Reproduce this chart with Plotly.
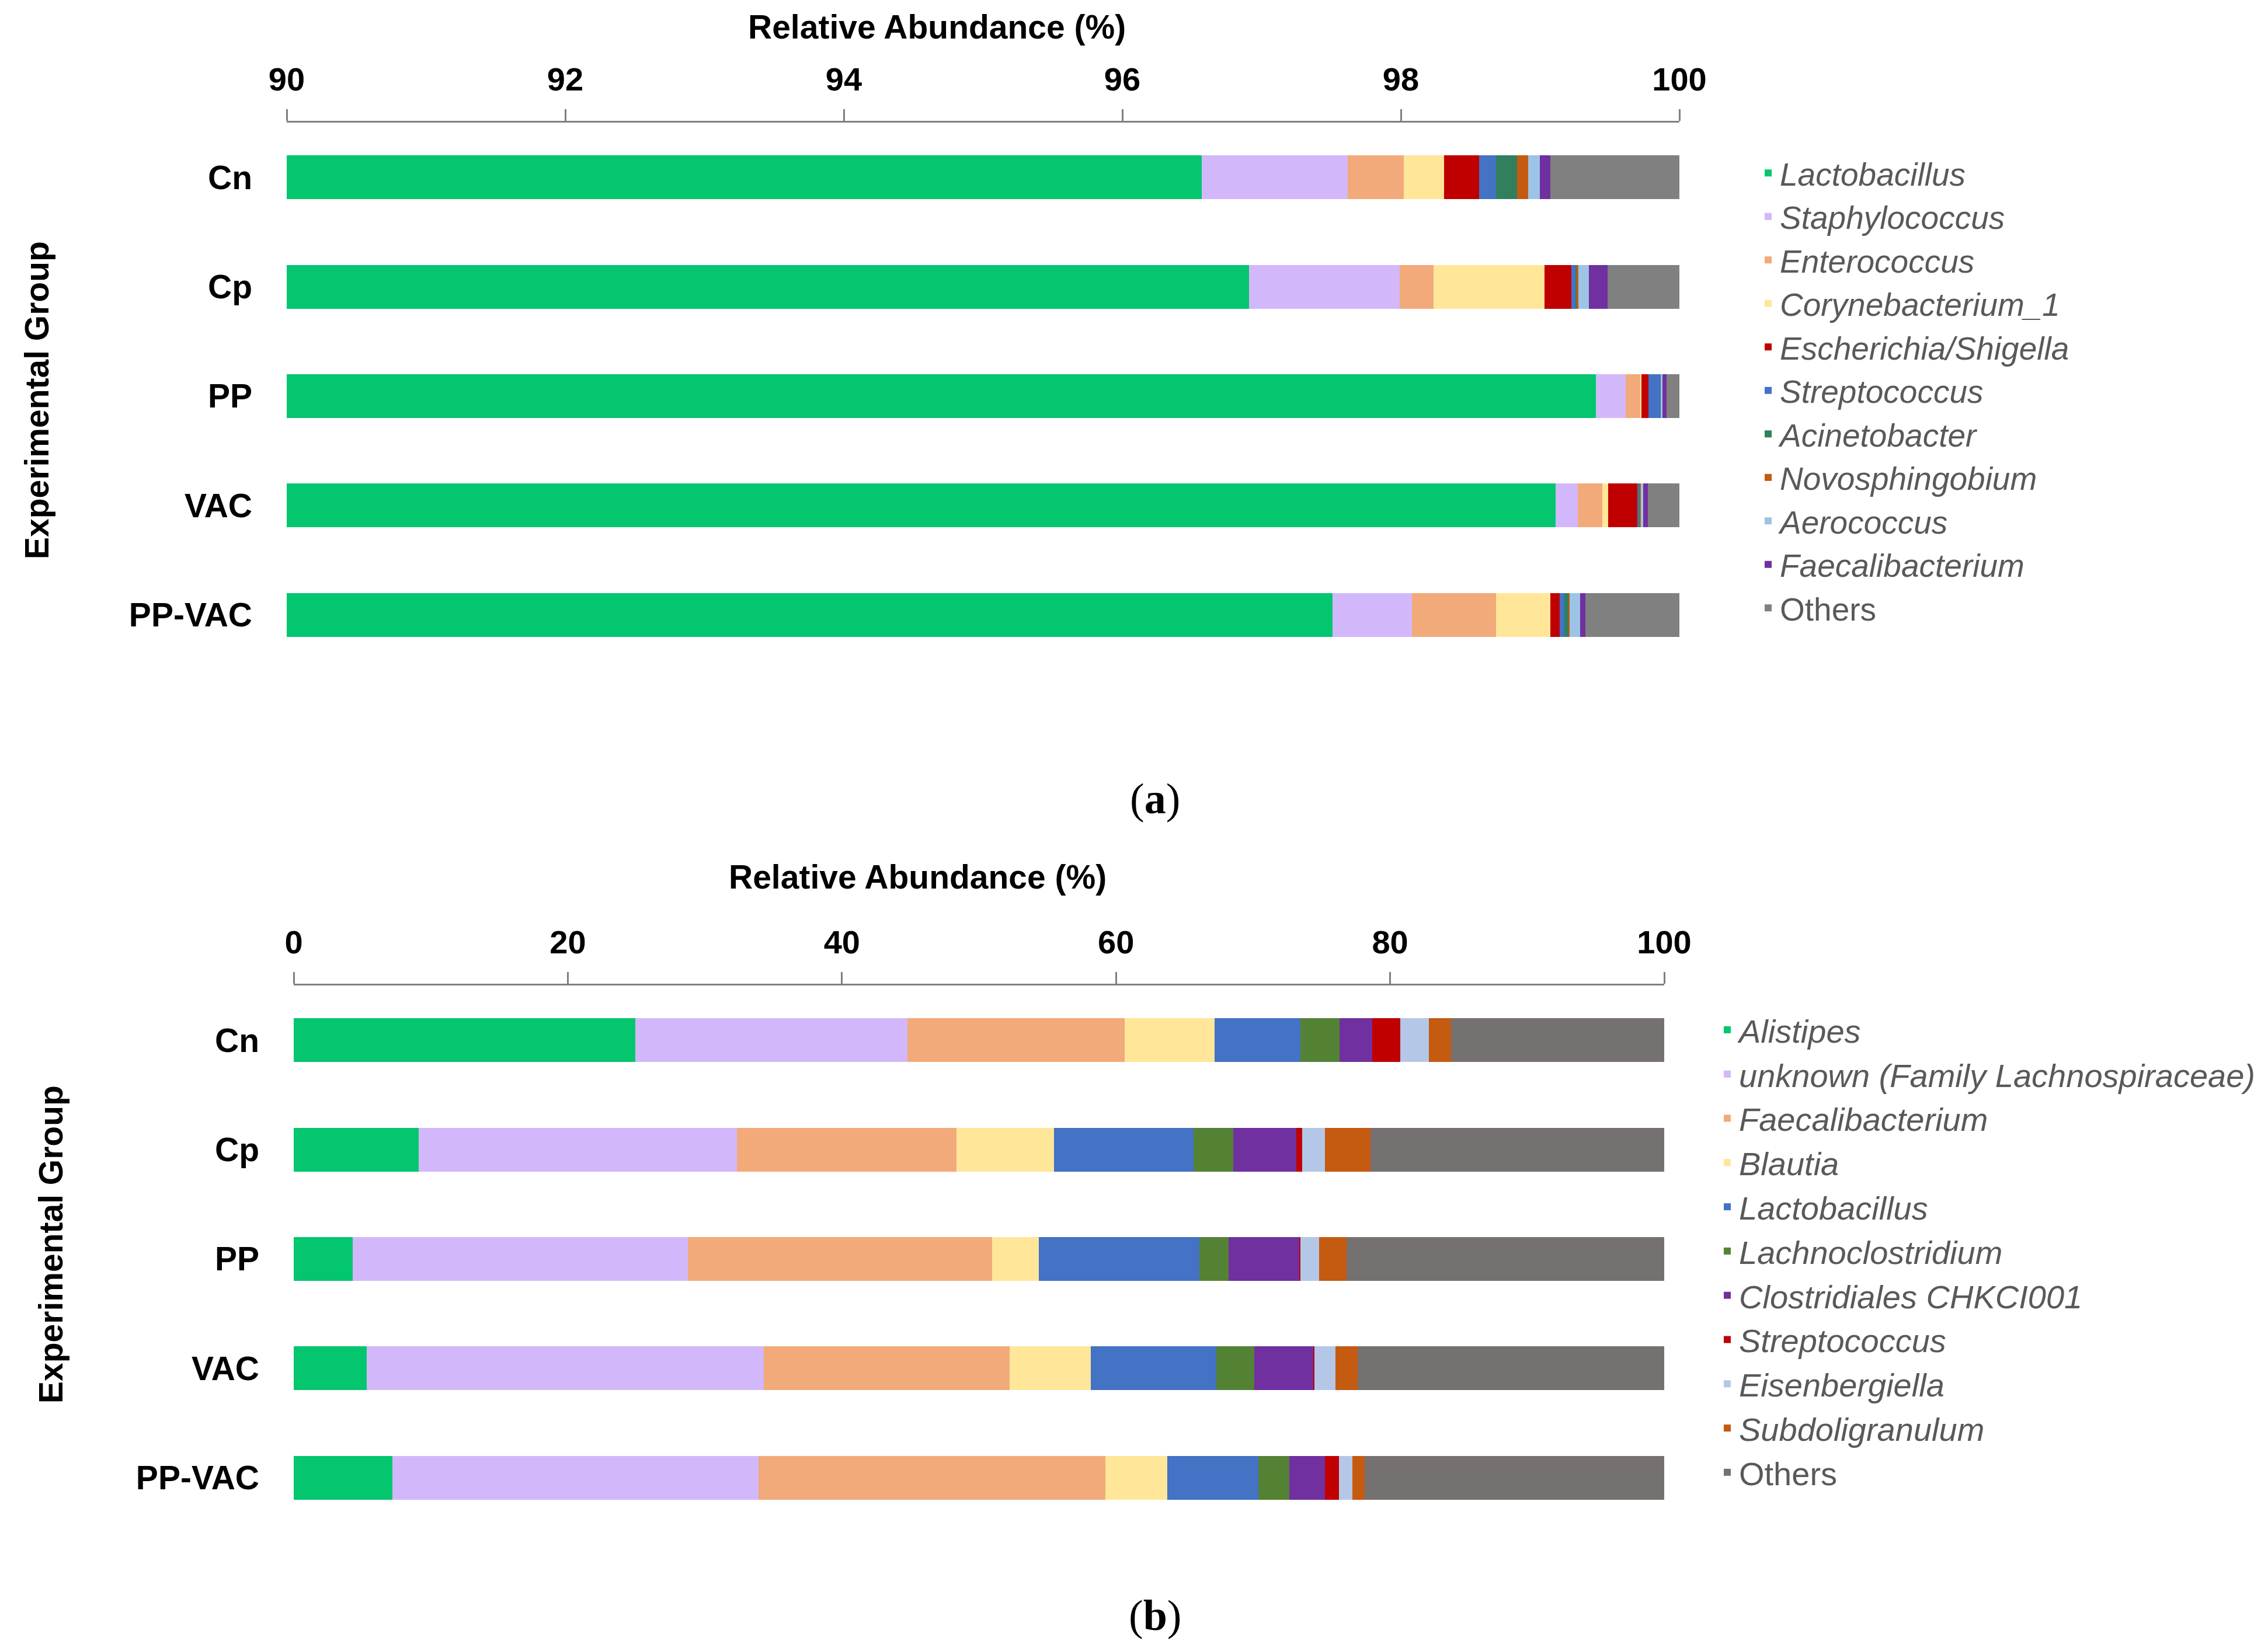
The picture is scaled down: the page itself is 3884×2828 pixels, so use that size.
import plotly.graph_objects as go

W, H = 3884, 2828

groups = ["Cn", "Cp", "PP", "VAC", "PP-VAC"]

# panel (a) - genera, top-level colours
genera_a = ["Lactobacillus", "Staphylococcus", "Enterococcus", "Corynebacterium_1",
            "Escherichia/Shigella", "Streptococcus", "Acinetobacter", "Novosphingobium",
            "Aerococcus", "Faecalibacterium", "Others"]
colors_a = ["#04C66F", "#D2B8FA", "#F2AA7A", "#FFE699", "#C00000", "#4472C4",
            "#317F5C", "#C55A11", "#9DC3E6", "#7030A0", "#808080"]

# relative abundance (%) per group, same order as genera_a
cn_a = [96.57, 1.05, 0.40, 0.29, 0.25, 0.125, 0.15, 0.077, 0.084, 0.077, 0.927]
cp_a = [96.91, 1.08, 0.246, 0.796, 0.193, 0.031, 0.005, 0.012, 0.075, 0.137, 0.515]
pp_a = [99.40, 0.213, 0.108, 0.006, 0.051, 0.087, 0.002, 0.002, 0.008, 0.030, 0.093]
vac_a = [99.11, 0.162, 0.176, 0.039, 0.210, 0.010, 0.012, 0.003, 0.017, 0.035, 0.226]
ppvac_a = [97.51, 0.57, 0.604, 0.39, 0.065, 0.036, 0.028, 0.010, 0.074, 0.039, 0.674]

# panel (b)
genera_b = ["Alistipes", "unknown (Family Lachnospiraceae)", "Faecalibacterium", "Blautia",
            "Lactobacillus", "Lachnoclostridium", "Clostridiales CHKCI001", "Streptococcus",
            "Eisenbergiella", "Subdoligranulum", "Others"]
colors_b = ["#04C66F", "#D2B8FA", "#F2AA7A", "#FFE699", "#4472C4", "#548235",
            "#7030A0", "#C00000", "#B4C7E7", "#C55A11", "#767171"]

cn_b = [24.92, 19.88, 15.84, 6.54, 6.26, 2.87, 2.39, 2.06, 2.08, 1.61, 15.55]
cp_b = [9.13, 23.22, 16.02, 7.11, 10.19, 2.88, 4.62, 0.40, 1.68, 3.33, 21.42]
pp_b = [4.29, 24.48, 22.20, 3.39, 11.74, 2.13, 5.12, 0.09, 1.40, 1.96, 23.20]
vac_b = [5.33, 28.95, 17.94, 5.92, 9.19, 2.78, 4.31, 0.05, 1.54, 1.64, 22.35]
ppvac_b = [7.20, 26.73, 25.30, 4.51, 6.65, 2.25, 2.61, 1.03, 0.98, 0.88, 21.86]

ticks_a = [90, 92, 94, 96, 98, 100]
ticks_b = [0, 20, 40, 60, 80, 100]

FONT = "Arial, Liberation Sans, sans-serif"
SERIF = "Times New Roman, Liberation Serif, serif"
AXIS_GREY = "#7F7F7F"
LEGEND_GREY = "#595959"

rows_a = [cn_a, cp_a, pp_a, vac_a, ppvac_a]
rows_b = [cn_b, cp_b, pp_b, vac_b, ppvac_b]

fig = go.Figure()


def label(name):
    return name if name == "Others" else "<i>" + name + "</i>"


for i, g in enumerate(genera_a):
    fig.add_trace(go.Bar(
        y=groups, x=[r[i] for r in rows_a], orientation="h",
        name=label(g), marker=dict(color=colors_a[i], line=dict(width=0)),
        xaxis="x", yaxis="y", legend="legend", hoverinfo="skip"))

for i, g in enumerate(genera_b):
    fig.add_trace(go.Bar(
        y=groups, x=[r[i] for r in rows_b], orientation="h",
        name=label(g), marker=dict(color=colors_b[i], line=dict(width=0)),
        xaxis="x2", yaxis="y2", legend="legend2", hoverinfo="skip"))


def px_x(v):
    return v / W


def px_y(v):
    return 1 - v / H


xaxis_common = dict(
    side="top", showline=True, linecolor=AXIS_GREY, linewidth=3,
    ticks="outside", ticklen=20, tickwidth=3, tickcolor=AXIS_GREY,
    ticklabelstandoff=10,
    tickfont=dict(family=FONT, size=56, color="black", weight="bold"),
    showgrid=False, zeroline=False, automargin=False, fixedrange=True)
yaxis_common = dict(
    autorange="reversed", showline=False, ticks="", showgrid=False,
    zeroline=False, automargin=False, ticklabelstandoff=58,
    tickfont=dict(family=FONT, size=57, color="black", weight="bold"))

legend_common = dict(
    xanchor="left", yanchor="top", traceorder="normal",
    bgcolor="rgba(0,0,0,0)", itemclick=False, itemdoubleclick=False)

fig.update_layout(
    width=W, height=H, template="none",
    paper_bgcolor="white", plot_bgcolor="white",
    margin=dict(l=0, r=0, t=0, b=0),
    barmode="stack", bargap=0.6,
    xaxis=dict(xaxis_common, domain=[px_x(483), px_x(2868)], range=[90, 100],
               tickvals=ticks_a, anchor="y"),
    yaxis=dict(yaxis_common, domain=[px_y(1139), px_y(202)], anchor="x"),
    xaxis2=dict(xaxis_common, domain=[px_x(495), px_x(2842)], range=[0, 100],
                tickvals=ticks_b, anchor="y2"),
    yaxis2=dict(yaxis_common, domain=[px_y(2617), px_y(1680)], anchor="x2"),
    legend=dict(legend_common, x=px_x(3000), y=px_y(246),
                font=dict(family=FONT, size=55, color=LEGEND_GREY)),
    legend2=dict(legend_common, x=px_x(2930), y=px_y(1713),
                 font=dict(family=FONT, size=56, color=LEGEND_GREY)),
    showlegend=True,
)

title_font = dict(family=FONT, size=57, color="black", weight="bold")
annotations = [
    dict(text="Relative Abundance (%)", x=px_x(1596), y=px_y(38), font=title_font),
    dict(text="Relative Abundance (%)", x=px_x(1563), y=px_y(1494), font=title_font),
    dict(text="Experimental Group", x=px_x(55), y=px_y(678), textangle=-90, font=title_font),
    dict(text="Experimental Group", x=px_x(79), y=px_y(2124), textangle=-90, font=title_font),
    dict(text="(<b>a</b>)", x=px_x(1970), y=px_y(1360),
         font=dict(family=SERIF, size=74, color="black")),
    dict(text="(<b>b</b>)", x=px_x(1970), y=px_y(2759),
         font=dict(family=SERIF, size=74, color="black")),
]
for a in annotations:
    fig.add_annotation(a, xref="paper", yref="paper", xanchor="center",
                       yanchor="middle", showarrow=False)

fig.write_html("out.html")
